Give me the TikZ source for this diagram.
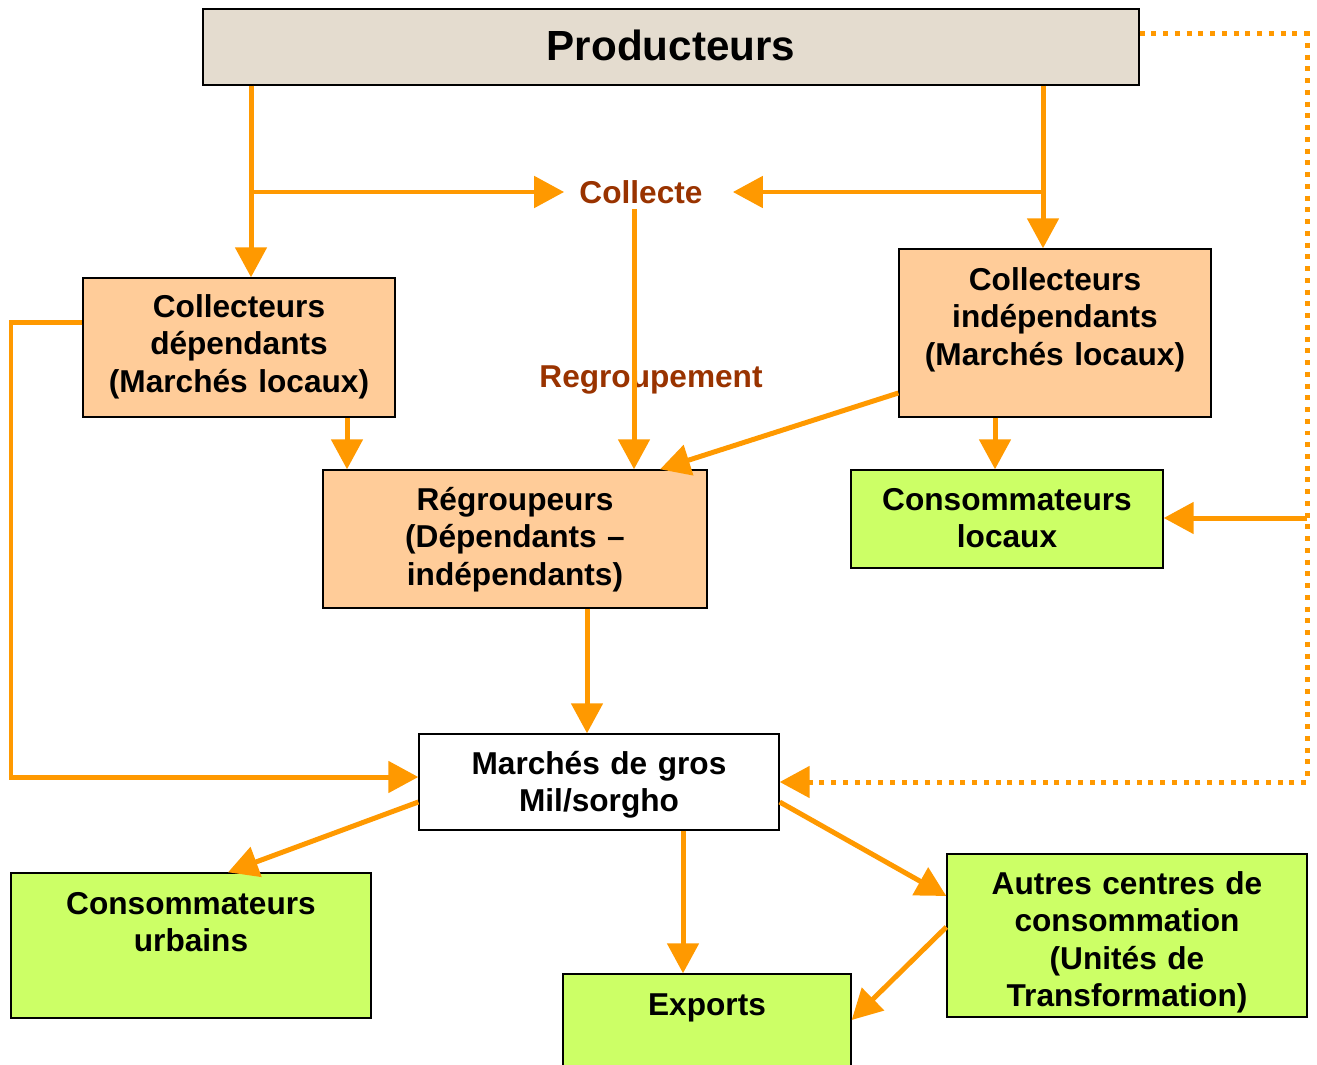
\documentclass[tikz,border=0pt]{standalone}
\usepackage{fontspec}
\setmainfont{Liberation Sans}
\usetikzlibrary{arrows.meta}
\definecolor{orangeflux}{HTML}{FF9900}
\definecolor{peche}{HTML}{FFCC99}
\definecolor{vert}{HTML}{CCFF66}
\definecolor{brique}{HTML}{993300}
\definecolor{sable}{HTML}{E4DCCF}

\begin{document}
\begin{tikzpicture}[x=0.02cm,y=-0.02cm,
	boite/.style={draw=black,line width=0.8pt,inner sep=0pt,align=center,anchor=base,font=\bfseries\fontsize{18}{21.25}\selectfont},
	fleche/.style={draw=orangeflux,line width=0.1cm,-{Triangle[length=0.6cm,width=0.62cm]}},
	pointille/.style={fleche,dash pattern=on 0.1cm off 0.135cm},
	etape/.style={text=brique,font=\bfseries\fontsize{18}{21.25}\selectfont,inner xsep=0.3cm,inner ysep=0.1cm}]
	\useasboundingbox (0,0) rectangle (1317,1064);
	\node[boite,fill=sable,anchor=center,minimum width=18.72cm,minimum height=1.52cm,font=\bfseries\fontsize{24}{28}\selectfont] (prod) at (671,47) {\raisebox{2pt}{Producteurs}};
	\node[boite,fill=peche,text width=6.24cm,text height=0.79cm,text depth=1.99cm] (coldep) at (239,317.5) {Collecteurs\\dépendants\\(Marchés locaux)};
	\node[boite,fill=peche,text width=6.24cm,text height=0.83cm,text depth=2.53cm] (colind) at (1055,290.5) {Collecteurs\\indépendants\\(Marchés locaux)};
	\node[boite,fill=peche,text width=7.68cm,text height=0.81cm,text depth=1.95cm] (regr) at (515,510.5) {Régroupeurs\\(Dépendants –\\indépendants)};
	\node[boite,fill=vert,text width=6.24cm,text height=0.81cm,text depth=1.15cm] (conloc) at (1007,510.5) {Consommateurs\\locaux};
	\node[boite,fill=white,text width=7.2cm,text height=0.81cm,text depth=1.11cm] (marches) at (599,774.5) {Marchés de gros\\Mil/sorgho};
	\node[boite,fill=vert,text width=7.2cm,text height=0.83cm,text depth=2.07cm] (conurb) at (191,914.5) {Consommateurs\\urbains};
	\node[boite,fill=vert,text width=5.76cm,text height=0.83cm,text depth=1.05cm] (exports) at (707,1015.5) {Exports};
	\node[boite,fill=vert,text width=7.2cm,text height=0.81cm,text depth=2.45cm] (autres) at (1127,894.5) {Autres centres de\\consommation\\(Unités de\\Transformation)};
	\node[etape] (collecte) at (641,192) {Collecte};
	\node[etape] (regroup) at (651,380) {Regroupement};
	\coordinate (coin) at (1307,34);
	\coordinate (relais) at (1307,518);
	\draw[fleche] (prod.south -| 251,0) -- (coldep.north -| 251,0);
	\draw[fleche] (collecte.west -| 251,0) -- (collecte.west);
	\draw[fleche] (prod.south -| 1043,0) -- (colind.north -| 1043,0);
	\draw[fleche,shorten >=0.3cm] (collecte.east -| 1043,0) -- (collecte.east);
	\draw[fleche] (collecte.south -| 634,0) -- (regr.north -| 634,0);
	\draw[fleche] (coldep.south -| 347,0) -- (regr.north -| 347,0);
	\draw[fleche] (colind.west |- 0,393) -- (660,0 |- regr.north);
	\draw[fleche] (colind.south -| 995,0) -- (conloc.north -| 995,0);
	\draw[fleche] (regr.south -| 587,0) -- (marches.north -| 587,0);
	\draw[fleche] (coldep.west |- 0,322) -| (11,777) -- (marches.west |- 0,777);
	\draw[pointille] (prod.east |- coin) -- (coin) |- (marches.east);
	\draw[fleche] (relais) -- (conloc.east |- relais);
	\draw[fleche] (marches.west |- 0,802) -- (228,0 |- conurb.north);
	\draw[fleche] (marches.south -| 683,0) -- (exports.north -| 683,0);
	\draw[fleche] (marches.east |- 0,802) -- (autres.west |- 0,896);
	\draw[fleche] (autres.west |- 0,927) -- (exports.east |- 0,1020);
\end{tikzpicture}
\end{document}
